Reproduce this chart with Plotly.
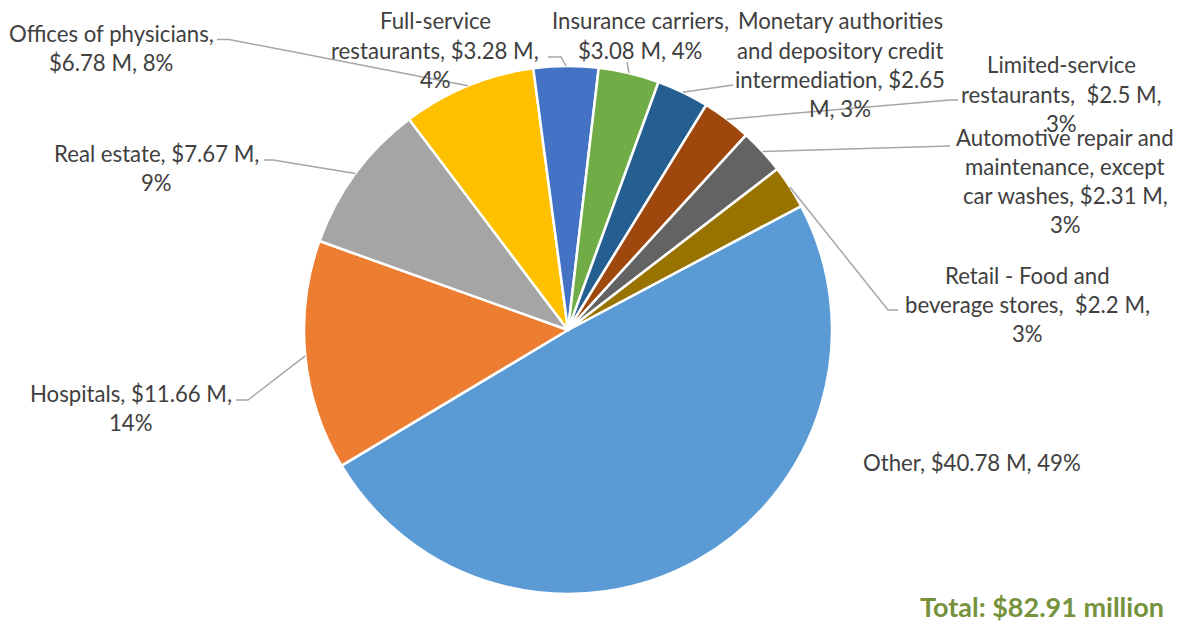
import math
import plotly.graph_objects as go

# ---- data ----
categories = ["Other", "Hospitals", "Real estate", "Offices of physicians",
              "Full-service restaurants", "Insurance carriers",
              "Monetary authorities and depository credit intermediation",
              "Limited-service restaurants",
              "Automotive repair and maintenance, except car washes",
              "Retail - Food and beverage stores"]
values = [40.78, 11.66, 7.67, 6.78, 3.28, 3.08, 2.65, 2.5, 2.31, 2.2]
colors = ["#5B9BD5", "#ED7D31", "#A5A5A5", "#FFC000", "#4472C4",
          "#70AD47", "#255E91", "#9E480E", "#636363", "#997300"]
total_text = "Total: $82.91 million"

total = sum(values)
pcts = [round(v / total * 100) for v in values]
money = [f"${v:g} M" for v in values]

# wrapped label text (lines) per category
label_lines = [
    [f"Other, {money[0]}, {pcts[0]}%"],
    [f"Hospitals, {money[1]},", f"{pcts[1]}%"],
    [f"Real estate, {money[2]},", f"{pcts[2]}%"],
    ["Offices of physicians,", f"{money[3]}, {pcts[3]}%"],
    ["Full-service", f"restaurants, {money[4]},", f"{pcts[4]}%"],
    ["Insurance carriers,", f"{money[5]}, {pcts[5]}%"],
    ["Monetary authorities", "and depository credit",
     f"intermediation, ${values[6]:g}", f"M, {pcts[6]}%"],
    ["Limited-service", f"restaurants,  {money[7]},", f"{pcts[7]}%"],
    ["Automotive repair and", "maintenance, except",
     f"car washes, {money[8]},", f"{pcts[8]}%"],
    ["Retail - Food and", f"beverage stores,  {money[9]},", f"{pcts[9]}%"],
]

# ---- layout (pixels) ----
W, H = 1186, 622
CX, CY, R = 568, 330, 264
ROT = 62
LINE_H = 29.3
label_layout = [
    dict(x=972, y=462, leader=None),
    dict(x=131, y=393, leader=[(236, 400), (248, 400)]),
    dict(x=156, y=153, leader=[(264, 160), (273, 160)]),
    dict(x=111, y=33, leader=[(217, 39.5), (229, 39.5)]),
    dict(x=435, y=21, leader=[(548, 57), (561, 57)]),
    dict(x=640, y=21, leader=[(627, 62)]),
    dict(x=840, y=21, leader=[(733, 85)]),
    dict(x=1061, y=65, leader=[(958, 100), (950, 100)]),
    dict(x=1065, y=137, leader=[(950, 146)]),
    dict(x=1027, y=275, leader=[(898, 310), (888, 310)]),
]

FONT = "Lato"
FONT_SIZE = 22.2
TEXT_COLOR = "#404040"
LEADER_COLOR = "#A6A6A6"


def px(x, y):
    return x / W, 1 - y / H


fig = go.Figure(go.Pie(
    labels=categories, values=values, sort=False, direction="clockwise",
    rotation=ROT, textinfo="none", showlegend=False, hoverinfo="label+value+percent",
    marker=dict(colors=colors, line=dict(color="white", width=2.5)),
    domain=dict(x=[(CX - R) / W, (CX + R) / W],
                y=[1 - (CY + R) / H, 1 - (CY - R) / H]),
))

annotations = []
shapes = []
cum = 0.0
for i, (cat, v) in enumerate(zip(categories, values)):
    mid = math.radians(ROT + (cum + v / 2) / total * 360)
    cum += v
    ex, ey = CX + R * math.sin(mid), CY - R * math.cos(mid)
    lay = label_layout[i]
    for j, line in enumerate(label_lines[i]):
        xx, yy = px(lay["x"], lay["y"] + j * LINE_H)
        annotations.append(dict(
            x=xx, y=yy, xref="paper", yref="paper", text=line, showarrow=False,
            xanchor="center", yanchor="middle",
            font=dict(family=FONT, size=FONT_SIZE, color=TEXT_COLOR)))
    if lay["leader"]:
        pts = [px(*p) for p in lay["leader"]] + [px(ex, ey)]
        path = "M " + " L ".join(f"{a:.5f},{b:.5f}" for a, b in pts)
        shapes.append(dict(type="path", path=path, xref="paper", yref="paper",
                           line=dict(color=LEADER_COLOR, width=1.5)))

tx, ty = px(1166, 606)
annotations.append(dict(x=tx, y=ty, xref="paper", yref="paper", text=f"<b>{total_text}</b>",
                        showarrow=False, xanchor="right", yanchor="middle",
                        font=dict(family=FONT, size=27, color="#76923C")))

fig.update_layout(
    width=W, height=H, margin=dict(l=0, r=0, t=0, b=0),
    paper_bgcolor="white", plot_bgcolor="white",
    annotations=annotations, shapes=shapes,
)

fig.write_html("out.html", config={"displayModeBar": False},
               post_script="document.body.style.margin='0';document.body.style.overflow='hidden';")
